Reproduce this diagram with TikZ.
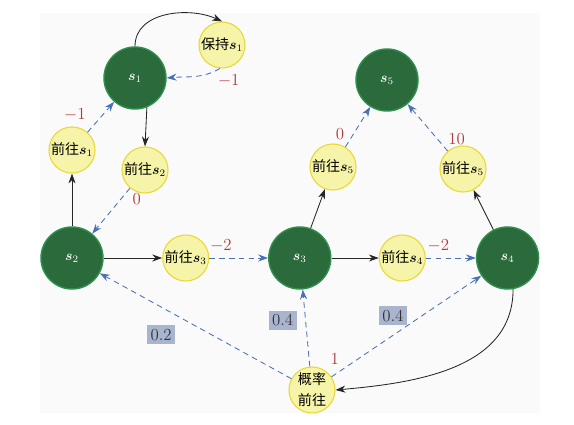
\documentclass[tikz,border=0pt]{standalone}
\usepackage{fontspec}
\usepackage{bm}
\usepackage{xcolor}
\usepackage{tikz}
\usetikzlibrary{arrows.meta, positioning}
\newfontfamily\cjk{Noto Sans CJK SC}
\definecolor{clrGreen}{HTML}{2A6A3B}
\definecolor{clrGreenDark}{HTML}{2F8F4E}
\definecolor{clrYellow}{HTML}{F6F4A8}
\definecolor{clrYellowDark}{HTML}{EAD93A}
\definecolor{clrBlue}{HTML}{4A70B5}
\definecolor{clrRed}{HTML}{B03A3A}
\definecolor{clrBox}{HTML}{A9B5CF}
\definecolor{clrBg}{HTML}{FAFAFA}
\newcommand{\sv}[1]{$\bm{s}_{#1}$}
\tikzset{
  mdp state/.style={circle, draw=clrGreenDark, fill=clrGreen, line width=1pt, minimum size=1.55cm, inner sep=0pt, text=white},
  mdp act/.style={circle, draw=clrYellowDark, fill=clrYellow, line width=0.8pt, minimum size=1.15cm, inner sep=0pt, font=\cjk, align=center},
  rew/.style={text=clrRed, font=\large},
  prob/.style={fill=clrBox, text=black!80, inner sep=2.5pt, font=\large},
  arr/.style={-{Stealth[length=7pt, width=5pt]}, line width=0.6pt, black!85},
  darr/.style={-{Stealth[length=7pt, width=5pt]}, line width=0.6pt, clrBlue, dash pattern=on 4pt off 3pt},
}
\begin{document}
\begin{tikzpicture}[x=0.025cm, y=-0.025cm]
  \useasboundingbox (0,0) rectangle (574,425);
  \fill[clrBg] (40,13) rectangle (540,413);

  % States
  \node[mdp state] (S1) at (135,78) {\sv{1}};
  \node[mdp state] (S2) at (72,258) {\sv{2}};
  \node[mdp act, right=1.46cm of S2] (GO3) {前往\sv{3}};
  \node[mdp state, right=1.47cm of GO3] (S3) {\sv{3}};
  \node[mdp act, right=1.18cm of S3] (GO4) {前往\sv{4}};
  \node[mdp state, right=1.25cm of GO4] (S4) {\sv{4}};
  \node[mdp state] (S5) at (387,80) {\sv{5}};

  % Actions
  \node[mdp act] (HOLD) at (222,45) {保持\sv{1}};
  \node[mdp act] (GO1) at (72,150) {前往\sv{1}};
  \node[mdp act] (GO2) at (145,170) {前往\sv{2}};
  \node[mdp act] (GO5A) at (333,167) {前往\sv{5}};
  \node[mdp act] (GO5B) at (463,169) {前往\sv{5}};
  \node[mdp act, label={[rew, label distance=1pt]57:$1$}] (PGO) at (312,390) {概率\\[3pt]前往};

  % Transitions
  \draw[arr] (S1.north) to[out=90, in=155] (HOLD.north);
  \draw[darr] (HOLD.-95) to[out=-150, in=5] node[at start, rew, below right=1pt and -5pt] {$-1$} (S1.east);
  \draw[arr] (S1.-68) -- (GO2.north);
  \draw[darr] (GO2) -- node[pos=0.25, rew, right=5pt] {$0$} (S2);
  \draw[arr] (S2.north) -- (GO1);
  \draw[darr] (GO1) -- node[pos=0.12, rew, above left=2pt and 0pt] {$-1$} (S1);

  \draw[arr] (S2) -- (GO3);
  \draw[darr] (GO3) -- node[pos=0.2, rew, above=1pt] {$-2$} (S3);
  \draw[arr] (S3) -- (GO4);
  \draw[darr] (GO4) -- node[pos=0.25, rew, above=1pt] {$-2$} (S4);

  \draw[arr] (S3) -- (GO5A);
  \draw[darr] (GO5A) -- node[pos=0.32, rew, left=3pt] {$0$} (S5);
  \draw[arr] (S4) -- (GO5B);
  \draw[darr] (GO5B) -- node[pos=0.25, rew, right=4pt] {$10$} (S5);

  \draw[arr] (S4.-80) to[out=-90, in=5] (PGO.east);
  \draw[darr] (PGO) -- node[pos=0.68, prob, below=0.45cm] {0.2} (S2);
  \draw[darr] (PGO) -- node[pos=0.6, prob, left=6pt] {0.4} (S3);
  \draw[darr] (PGO) -- node[pos=0.41, prob, above=0.25cm] {0.4} (S4);
\end{tikzpicture}
\end{document}
